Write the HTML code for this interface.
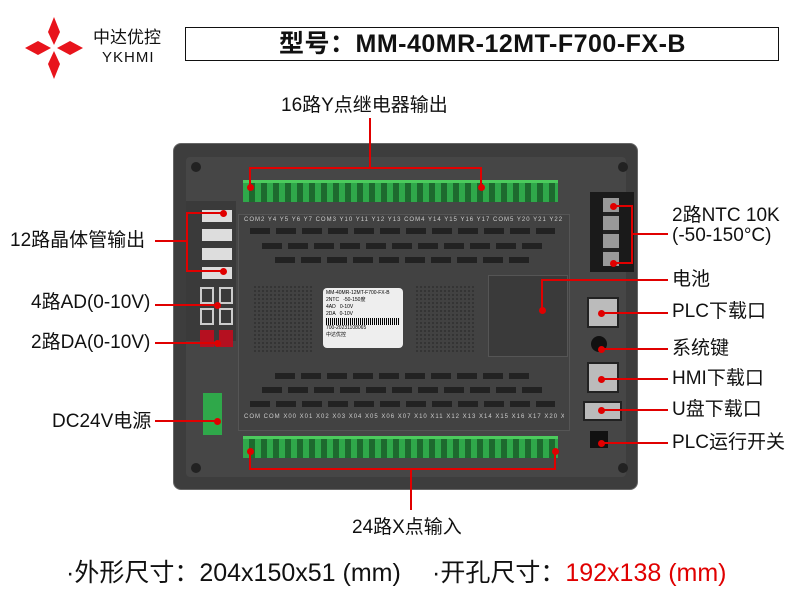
<!DOCTYPE html>
<html><head><meta charset="utf-8"><style>
body{margin:0;width:800px;height:600px;background:#fff;position:relative;overflow:hidden;font-family:"Liberation Sans","Noto Sans CJK SC",sans-serif}
.a{position:absolute}
.t{position:absolute;font-size:19px;color:#111;white-space:nowrap;line-height:20px}
.r{position:absolute;background:#e00000}
.dot{position:absolute;width:7px;height:7px;border-radius:50%;background:#e00000;margin:-3px 0 0 -3px}
.lab{position:absolute;font-size:6px;color:#ccc;white-space:nowrap;overflow:hidden;width:320px;letter-spacing:1px;line-height:8px}
</style></head><body>
<!-- logo -->
<svg class="a" style="left:22px;top:17px" width="64" height="62" viewBox="0 0 64 62">
<polygon points="32,0 38,15 32,28 26,15" fill="#e8141c"/>
<polygon points="32,62 38,47 32,34 26,47" fill="#e8141c"/>
<polygon points="3,31 16,24 29,31 16,38" fill="#e8141c"/>
<polygon points="61,31 48,24 35,31 48,38" fill="#e8141c"/>
</svg>
<div class="t" style="left:93px;top:28px;font-size:17px">中达优控</div>
<div class="t" style="left:102px;top:48px;font-size:15px;letter-spacing:1px">YKHMI</div>
<div class="a" style="left:185px;top:27px;width:592px;height:32px;border:1.5px solid #111"></div>
<div class="t" style="left:185px;top:30px;width:595px;text-align:center;font-size:25px;font-weight:bold;line-height:28px;letter-spacing:0.5px">型号：MM-40MR-12MT-F700-FX-B</div>

<!-- device -->
<div class="a" style="left:173px;top:143px;width:465px;height:347px;background:#3d3d3d;border-radius:8px;border:1px solid #666;box-sizing:border-box"></div>
<div class="a" style="left:186px;top:157px;width:440px;height:320px;background:#464646;border-radius:4px"></div>
<div class="a" style="left:238px;top:214px;width:330px;height:215px;background:#424242;border:1px solid #555"></div>
<div class="a" style="left:191px;top:162px;width:10px;height:10px;border-radius:50%;background:#222"></div>
<div class="a" style="left:618px;top:162px;width:10px;height:10px;border-radius:50%;background:#222"></div>
<div class="a" style="left:191px;top:463px;width:10px;height:10px;border-radius:50%;background:#222"></div>
<div class="a" style="left:618px;top:463px;width:10px;height:10px;border-radius:50%;background:#222"></div>
<div class="a" style="left:243px;top:180px;width:315px;height:19px;background:repeating-linear-gradient(90deg,#2fa84a 0 6px,#1d6a2e 6px 12px);border-top:3px solid #4ccb5d"></div>
<div class="a" style="left:243px;top:436px;width:315px;height:19px;background:repeating-linear-gradient(90deg,#2fa84a 0 6px,#1d6a2e 6px 12px);border-top:3px solid #4ccb5d"></div>
<div class="lab" style="left:244px;top:216px">COM2 Y4 Y5 Y6 Y7 COM3 Y10 Y11 Y12 Y13 COM4 Y14 Y15 Y16 Y17 COM5 Y20 Y21 Y22 Y23 NC NC NC NC NC NC</div>
<div class="lab" style="left:244px;top:413px">COM COM X00 X01 X02 X03 X04 X05 X06 X07 X10 X11 X12 X13 X14 X15 X16 X17 X20 X21 X22 X23 X24 X25 X26 X27</div>
<div class="a" style="left:250px;top:228px;width:305px;height:6px;background:repeating-linear-gradient(90deg,#222 0 20px,transparent 20px 26px)"></div>
<div class="a" style="left:262px;top:243px;width:285px;height:6px;background:repeating-linear-gradient(90deg,#222 0 20px,transparent 20px 26px)"></div>
<div class="a" style="left:275px;top:257px;width:260px;height:6px;background:repeating-linear-gradient(90deg,#222 0 20px,transparent 20px 26px)"></div>
<div class="a" style="left:275px;top:373px;width:260px;height:6px;background:repeating-linear-gradient(90deg,#222 0 20px,transparent 20px 26px)"></div>
<div class="a" style="left:262px;top:387px;width:285px;height:6px;background:repeating-linear-gradient(90deg,#222 0 20px,transparent 20px 26px)"></div>
<div class="a" style="left:250px;top:401px;width:305px;height:6px;background:repeating-linear-gradient(90deg,#222 0 20px,transparent 20px 26px)"></div>
<div class="a" style="left:253px;top:285px;width:60px;height:68px;background:radial-gradient(#333 1px,transparent 1.2px) 0 0/4px 4px"></div>
<div class="a" style="left:415px;top:285px;width:60px;height:68px;background:radial-gradient(#333 1px,transparent 1.2px) 0 0/4px 4px"></div>
<div class="a" style="left:323px;top:288px;width:80px;height:60px;background:#eee;border-radius:4px;font-size:5px;line-height:7px;padding:2px 3px;box-sizing:border-box;overflow:hidden">MM-40MR-12MT-F700-FX-B<br>2NTC &nbsp; -50-150度<br>4AD &nbsp; 0-10V<br>2DA &nbsp; 0-10V<br><div style="height:7px;background:repeating-linear-gradient(90deg,#000 0 1px,#eee 1px 2px)"></div>700-20231108065<br>中达优控</div>
<div class="a" style="left:488px;top:275px;width:78px;height:80px;background:#3a3a3a;border:1px solid #555"></div>
<div class="a" style="left:186px;top:201px;width:50px;height:140px;background:#3a3a3a"></div>
<div class="a" style="left:202px;top:210px;width:30px;height:12px;background:#ddd"></div>
<div class="a" style="left:202px;top:229px;width:30px;height:12px;background:#ddd"></div>
<div class="a" style="left:202px;top:248px;width:30px;height:12px;background:#ddd"></div>
<div class="a" style="left:202px;top:267px;width:30px;height:12px;background:#ddd"></div>
<div class="a" style="left:200px;top:287px;width:14px;height:17px;border:2px solid #ccc;box-sizing:border-box"></div>
<div class="a" style="left:219px;top:287px;width:14px;height:17px;border:2px solid #ccc;box-sizing:border-box"></div>
<div class="a" style="left:200px;top:308px;width:14px;height:17px;border:2px solid #ccc;box-sizing:border-box"></div>
<div class="a" style="left:219px;top:308px;width:14px;height:17px;border:2px solid #ccc;box-sizing:border-box"></div>
<div class="a" style="left:200px;top:330px;width:14px;height:17px;background:#b51020"></div>
<div class="a" style="left:219px;top:330px;width:14px;height:17px;background:#b51020"></div>
<div class="a" style="left:203px;top:393px;width:19px;height:42px;background:#2fa84a"></div>
<div class="a" style="left:590px;top:192px;width:44px;height:80px;background:#1a1a1a"></div>
<div class="a" style="left:603px;top:198px;width:16px;height:68px;background:repeating-linear-gradient(#999 0 14px,#222 14px 18px)"></div>
<div class="a" style="left:587px;top:297px;width:28px;height:27px;background:#bbb;border:2px solid #222"></div>
<div class="a" style="left:591px;top:336px;width:16px;height:16px;border-radius:50%;background:#111"></div>
<div class="a" style="left:587px;top:362px;width:28px;height:27px;background:#bbb;border:2px solid #222"></div>
<div class="a" style="left:583px;top:401px;width:35px;height:16px;background:#bbb;border:2px solid #222"></div>
<div class="a" style="left:590px;top:431px;width:18px;height:17px;background:#111"></div>

<div class="t" style="left:281px;top:96px">16路Y点继电器输出</div>
<div class="r" style="left:369px;top:118px;width:2px;height:50px"></div>
<div class="r" style="left:249px;top:167px;width:233px;height:2px"></div>
<div class="r" style="left:249px;top:167px;width:2px;height:20px"></div>
<div class="r" style="left:480px;top:167px;width:2px;height:20px"></div>
<div class="dot" style="left:250px;top:187px"></div><div class="dot" style="left:481px;top:187px"></div>
<div class="r" style="left:249px;top:468px;width:307px;height:2px"></div>
<div class="r" style="left:249px;top:451px;width:2px;height:18px"></div>
<div class="r" style="left:554px;top:451px;width:2px;height:18px"></div>
<div class="r" style="left:410px;top:468px;width:2px;height:42px"></div>
<div class="dot" style="left:250px;top:451px"></div><div class="dot" style="left:555px;top:451px"></div>
<div class="t" style="left:352px;top:518px">24路X点输入</div>
<div class="t" style="left:10px;top:231px">12路晶体管输出</div>
<div class="r" style="left:155px;top:240px;width:33px;height:2px"></div>
<div class="r" style="left:186px;top:212px;width:2px;height:59px"></div>
<div class="r" style="left:186px;top:212px;width:36px;height:2px"></div>
<div class="r" style="left:186px;top:270px;width:36px;height:2px"></div>
<div class="dot" style="left:223px;top:213px"></div><div class="dot" style="left:223px;top:271px"></div>
<div class="t" style="left:31px;top:293px">4路AD(0-10V)</div>
<div class="r" style="left:155px;top:304px;width:62px;height:2px"></div><div class="dot" style="left:217px;top:305px"></div>
<div class="t" style="left:31px;top:333px">2路DA(0-10V)</div>
<div class="r" style="left:155px;top:342px;width:62px;height:2px"></div><div class="dot" style="left:217px;top:343px"></div>
<div class="t" style="left:52px;top:412px">DC24V电源</div>
<div class="r" style="left:155px;top:420px;width:62px;height:2px"></div><div class="dot" style="left:217px;top:421px"></div>
<div class="r" style="left:613px;top:205px;width:20px;height:2px"></div>
<div class="r" style="left:613px;top:262px;width:20px;height:2px"></div>
<div class="r" style="left:631px;top:205px;width:2px;height:59px"></div>
<div class="r" style="left:631px;top:233px;width:37px;height:2px"></div>
<div class="dot" style="left:613px;top:206px"></div><div class="dot" style="left:613px;top:263px"></div>
<div class="t" style="left:672px;top:206px">2路NTC 10K</div>
<div class="t" style="left:672px;top:226px">(-50-150°C)</div>
<div class="r" style="left:541px;top:279px;width:127px;height:2px"></div>
<div class="r" style="left:541px;top:279px;width:2px;height:30px"></div><div class="dot" style="left:542px;top:310px"></div>
<div class="t" style="left:672px;top:270px">电池</div>
<div class="r" style="left:601px;top:312px;width:67px;height:2px"></div><div class="dot" style="left:601px;top:313px"></div>
<div class="t" style="left:672px;top:302px">PLC下载口</div>
<div class="r" style="left:601px;top:348px;width:67px;height:2px"></div><div class="dot" style="left:601px;top:349px"></div>
<div class="t" style="left:672px;top:339px">系统键</div>
<div class="r" style="left:601px;top:378px;width:67px;height:2px"></div><div class="dot" style="left:601px;top:379px"></div>
<div class="t" style="left:672px;top:369px">HMI下载口</div>
<div class="r" style="left:601px;top:409px;width:67px;height:2px"></div><div class="dot" style="left:601px;top:410px"></div>
<div class="t" style="left:672px;top:400px">U盘下载口</div>
<div class="r" style="left:601px;top:442px;width:67px;height:2px"></div><div class="dot" style="left:601px;top:443px"></div>
<div class="t" style="left:672px;top:433px">PLC运行开关</div>
<div class="t" style="left:66px;top:559px;font-size:25px;line-height:28px">·外形尺寸：204x150x51 (mm)</div>
<div class="t" style="left:432px;top:559px;font-size:25px;line-height:28px">·开孔尺寸：<span style="color:#e00000">192x138 (mm)</span></div>
</body></html>
